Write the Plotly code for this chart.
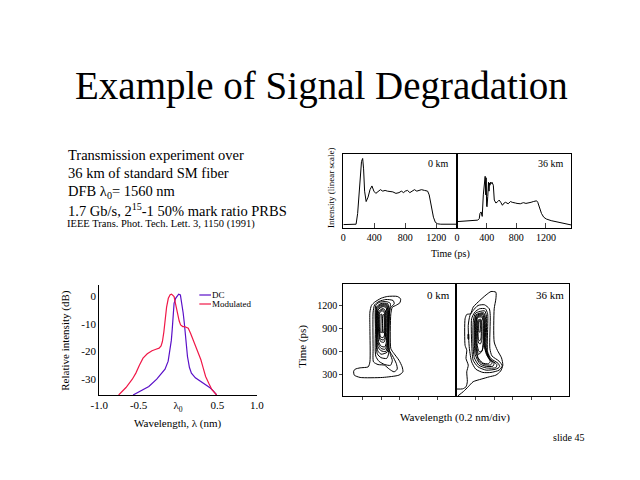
import plotly.graph_objects as go

FONT = "Liberation Serif"

# ---- top: pulse shapes (time in ps, intensity in arbitrary linear units) ----
time_0km = [0, 100, 165, 185, 210, 235, 250, 262, 275, 295, 320, 345, 370, 395, 420, 450, 480, 510,
            540, 570, 600, 640, 680, 720, 750, 780, 800, 830, 860, 890, 920, 950, 980, 1010, 1050,
            1090, 1110, 1140, 1165, 1190, 1220, 1260, 1470]
inten_0km = [0.05, 0.05, 0.055, 0.2, 0.6, 0.9, 0.94, 0.8, 0.5, 0.36, 0.42, 0.52, 0.57, 0.5, 0.47, 0.5,
             0.52, 0.5, 0.51, 0.5, 0.5, 0.49, 0.47, 0.48, 0.5, 0.48, 0.5, 0.51, 0.48, 0.5, 0.52, 0.5,
             0.51, 0.52, 0.51, 0.5, 0.45, 0.3, 0.15, 0.08, 0.06, 0.055, 0.055]

time_36km = [0, 100, 200, 280, 300, 310, 325, 340, 355, 370, 380, 388, 393, 400, 405, 415, 425, 432,
             438, 445, 452, 460, 472, 490, 503, 525, 550, 569, 590, 613, 635, 656, 690, 722, 745, 767,
             790, 810, 854, 880, 898, 930, 964, 1000, 1030, 1055, 1074, 1090, 1104, 1140, 1170, 1205,
             1271, 1403, 1545]
inten_36km = [0.09, 0.095, 0.1, 0.11, 0.13, 0.2, 0.22, 0.16, 0.45, 0.66, 0.7, 0.45, 0.68, 0.3, 0.29,
              0.43, 0.62, 0.5, 0.61, 0.58, 0.62, 0.6, 0.62, 0.58, 0.38, 0.34, 0.36, 0.38, 0.35, 0.31,
              0.34, 0.35, 0.33, 0.36, 0.35, 0.34, 0.34, 0.335, 0.33, 0.34, 0.345, 0.335, 0.34, 0.35,
              0.36, 0.37, 0.37, 0.35, 0.31, 0.2, 0.15, 0.125, 0.103, 0.075, 0.044]
time_ticks = [0, 400, 800, 1200]

# ---- bottom left: optical spectra (wavelength offset in nm, dB) ----
dc_wl = [-0.57, -0.45, -0.37, -0.27, -0.165, -0.125, -0.103, -0.085, -0.074, -0.06, -0.05, -0.03,
         -0.01, 0.008, 0.03, 0.05, 0.065, 0.08, 0.1, 0.12, 0.145, 0.17, 0.22, 0.29, 0.35, 0.41, 0.45, 0.49]
dc_db = [-35.7, -34, -32.6, -30, -26.4, -23.5, -20, -16, -12.2, -7, -2.6, -0.8, 0.2, 0.7, 0.4, -2.5,
         -6, -9.8, -15.5, -21.8, -25.8, -27.8, -29.5, -30.8, -32, -33.2, -34.3, -35.7]
mod_wl = [-0.753, -0.66, -0.58, -0.535, -0.49, -0.444, -0.39, -0.33, -0.28, -0.24, -0.215, -0.198,
          -0.18, -0.165, -0.145, -0.123, -0.1, -0.082, -0.065, -0.05, -0.03, -0.008, 0.015, 0.033,
          0.06, 0.082, 0.105, 0.13, 0.16, 0.2, 0.25, 0.29, 0.32, 0.35, 0.39, 0.43, 0.49]
mod_db = [-35.7, -33, -30, -27.8, -25, -22.4, -20.8, -19.7, -19.2, -18.8, -18, -16.4, -13, -8.6, -4,
          -0.8, 0.5, 0.7, 0.3, -0.2, -3, -6.2, -9, -10.4, -11, -11, -11.3, -11.6, -13.5, -16.4, -19.5,
          -23, -26, -29, -31.5, -33.8, -35.7]
wl_ticks = [-1.0, -0.5, 0, 0.5, 1.0]
wl_ticktext = ["-1.0", "-0.5", "λ<sub>0</sub>", "0.5", "1.0"]
db_ticks = [0, -10, -20, -30]
db_ticktext = ["0", "-10", "-20", "-30"]

# ---- bottom right: spectrogram contour lines (wavelength div, time ps) ----
contours_0km = [
    [(0.55, 344), (0.63, 370), (0.89, 387), (1.32, 400), (1.41, 465), (1.41, 900), (1.41, 1114),
     (1.49, 1200), (1.66, 1243), (2.01, 1295), (2.35, 1318), (2.86, 1318), (3.04, 1286), (3.0, 1235),
     (2.78, 1200), (2.6, 1178), (2.52, 1092), (2.52, 638), (2.69, 573), (2.95, 487), (3.12, 400),
     (3.16, 335), (2.95, 292), (2.09, 262), (0.89, 262), (0.58, 292)],
    [(1.58, 1114), (1.66, 1209), (1.89, 1252), (2.26, 1278), (2.64, 1265), (2.7, 1222), (2.52, 1178),
     (2.44, 1092), (2.44, 616), (2.61, 543), (2.81, 443), (2.86, 370), (2.69, 335), (2.44, 370),
     (2.18, 422), (1.84, 430), (1.6, 465), (1.58, 638), (1.57, 985)],
    [(1.72, 1200), (1.9, 1240), (2.3, 1250), (2.5, 1225), (2.45, 1150), (2.42, 650), (2.5, 560),
     (2.6, 480), (2.5, 420), (2.2, 430), (1.9, 470), (1.72, 540), (1.7, 900)],
    [(1.76, 1180), (2.0, 1225), (2.35, 1225), (2.42, 1160), (2.38, 660), (2.4, 570), (2.3, 510),
     (2.0, 520), (1.8, 570), (1.75, 900)],
    [(1.78, 1170), (2.02, 1215), (2.33, 1212), (2.39, 1145), (2.36, 670), (2.32, 590), (2.0, 565),
     (1.82, 615)],
    [(1.8, 1160), (2.05, 1205), (2.3, 1200), (2.36, 1130), (2.34, 680), (2.25, 600), (2.0, 610),
     (1.84, 660)],
    [(1.83, 1140), (2.1, 1185), (2.27, 1170), (2.3, 1100), (2.28, 720), (2.2, 660), (2.0, 670),
     (1.87, 730)],
    [(1.85, 1150), (2.08, 1195), (2.29, 1185), (2.33, 1115), (2.31, 700), (2.22, 630), (2.0, 640),
     (1.86, 700)],
    [(1.87, 1120), (2.1, 1160), (2.22, 1140), (2.25, 1070), (2.22, 760), (2.15, 720), (1.98, 730),
     (1.9, 790)],
    [(1.9, 1110), (2.08, 1145), (2.2, 1125), (2.22, 1055), (2.2, 780), (2.12, 750), (1.98, 760),
     (1.91, 815)],
    [(1.92, 1100), (2.05, 1130), (2.17, 1110), (2.2, 1040), (2.17, 800), (2.1, 780), (1.98, 790),
     (1.93, 840)],
    [(1.95, 1070), (2.02, 1090), (2.05, 1000), (2.04, 850), (1.97, 850), (1.95, 950)],
    [(2.1, 1080), (2.15, 1080), (2.15, 860), (2.1, 840), (2.08, 900)],
]
outer_36km = [(0, 111), (0.33, 113), (0.51, 140), (0.58, 206), (0.55, 335), (0.63, 422), (0.51, 508),
              (0.55, 616), (0.46, 681), (0.46, 1027), (0.55, 1083), (0.75, 1092), (0.89, 1178),
              (1.24, 1265), (1.58, 1338), (1.84, 1382), (2.1, 1373), (2.1, 1286), (2.01, 1157),
              (2.01, 724), (2.18, 616), (2.4, 517), (2.47, 422), (2.35, 344), (2.1, 292), (1.75, 270),
              (1.32, 240), (0.89, 206), (0.63, 141), (0.38, 80), (0.07, 20)]
contours_36km = [
    [(0.89, 1135), (1.15, 1200), (1.49, 1209), (1.75, 1157), (1.8, 1070), (1.78, 638), (1.89, 543),
     (2.27, 474), (2.44, 413), (2.27, 357), (1.84, 327), (1.41, 327), (1.03, 370), (0.81, 465),
     (0.69, 638), (0.63, 941), (0.72, 1070)],
    [(0.98, 1114), (1.23, 1157), (1.54, 1157), (1.66, 1092), (1.66, 595), (1.84, 508), (2.23, 443),
     (2.3, 400), (2.1, 370), (1.58, 357), (1.15, 400), (0.89, 487), (0.81, 724), (0.81, 1027)],
    [(1.02, 1100), (1.5, 1130), (1.6, 1060), (1.6, 620), (1.8, 500), (2.15, 430), (2.1, 390),
     (1.6, 385), (1.2, 420), (0.95, 520), (0.88, 750), (0.9, 1000)],
    [(1.05, 1080), (1.45, 1105), (1.55, 1040), (1.55, 640), (1.75, 510), (2.0, 445), (1.95, 410),
     (1.6, 405), (1.25, 440), (1.0, 560), (0.95, 800), (0.97, 1000)],
    [(1.07, 1070), (1.43, 1092), (1.51, 1025), (1.51, 660), (1.68, 530), (1.9, 455), (1.82, 425),
     (1.5, 428), (1.2, 480), (1.01, 630), (0.99, 990)],
    [(1.1, 1060), (1.4, 1080), (1.48, 1010), (1.48, 680), (1.6, 560), (1.8, 470), (1.7, 440),
     (1.4, 450), (1.15, 520), (1.03, 700), (1.03, 980)],
    [(1.11, 1050), (1.37, 1065), (1.45, 1000), (1.45, 700), (1.38, 620), (1.18, 560), (1.06, 700),
     (1.05, 970)],
    [(1.12, 1040), (1.35, 1050), (1.42, 990), (1.42, 720), (1.35, 600), (1.2, 600), (1.1, 700),
     (1.08, 960)],
    [(1.15, 1010), (1.3, 1020), (1.35, 960), (1.35, 760), (1.28, 700), (1.18, 710), (1.13, 800),
     (1.13, 950)],
    [(1.17, 1000), (1.28, 1008), (1.32, 940), (1.31, 780), (1.25, 740), (1.17, 760), (1.15, 940)],
    [(1.2, 990), (1.26, 995), (1.28, 900), (1.25, 850), (1.2, 860), (1.19, 950)],
    [(0.62, 760), (0.65, 760), (0.65, 830), (0.62, 830)],
]
div_ticks = [1, 2, 3, 4, 5]
contour_time_ticks = [300, 600, 900, 1200]

# the page puts the plot 8px in from the top-left corner, so positions are shifted back by that
OFFSET = 8


def px(x):
    return (x - OFFSET) / 640


def py(y):
    return 1 - (y - OFFSET) / 480


fig = go.Figure()

line = dict(color="black", width=1)
fig.add_trace(go.Scatter(x=time_0km, y=inten_0km, mode="lines", line=line, xaxis="x", yaxis="y"))
fig.add_trace(go.Scatter(x=time_36km, y=inten_36km, mode="lines", line=line, xaxis="x2", yaxis="y2"))

fig.add_trace(go.Scatter(x=dc_wl, y=dc_db, mode="lines", line=dict(color="#5a10c8", width=1.2),
                         xaxis="x3", yaxis="y3"))
fig.add_trace(go.Scatter(x=mod_wl, y=mod_db, mode="lines", line=dict(color="#f01848", width=1.2),
                         xaxis="x3", yaxis="y3"))

contour_line = dict(color="black", width=1, shape="spline", smoothing=0.6)
for pts in contours_0km:
    pts = pts + [pts[0]]
    fig.add_trace(go.Scatter(x=[p[0] for p in pts], y=[p[1] for p in pts], mode="lines",
                             line=contour_line, xaxis="x4", yaxis="y4"))
fig.add_trace(go.Scatter(x=[p[0] for p in outer_36km], y=[p[1] for p in outer_36km], mode="lines",
                         line=contour_line, xaxis="x5", yaxis="y5"))
for pts in contours_36km:
    pts = pts + [pts[0]]
    fig.add_trace(go.Scatter(x=[p[0] for p in pts], y=[p[1] for p in pts], mode="lines",
                             line=contour_line, xaxis="x5", yaxis="y5"))

tickfont = dict(family=FONT, size=10, color="black")
box = dict(showline=True, mirror=True, linecolor="black", linewidth=1, showgrid=False, zeroline=False)

top_y = [py(228.3), py(154)]
bot_y = [py(396), py(284)]
fig.update_layout(
    width=640, height=480, margin=dict(l=0, r=0, t=0, b=0),
    paper_bgcolor="white", plot_bgcolor="white", showlegend=False,
    font=dict(family=FONT, color="black"),
    xaxis=dict(domain=[px(342.7), px(459.3)], range=[0, 1470], anchor="y", ticks="inside", ticklen=5,
               tickvals=time_ticks, tickfont=tickfont, **box),
    yaxis=dict(domain=top_y, range=[0, 1], anchor="x", showticklabels=False, ticks="", **box),
    xaxis2=dict(domain=[px(459.3), px(576.7)], range=[0, 1545], anchor="y2", ticks="inside", ticklen=5,
                tickvals=time_ticks, tickfont=tickfont, **box),
    yaxis2=dict(domain=top_y, range=[0, 1], anchor="x2", showticklabels=False, ticks="", **box),
    xaxis3=dict(domain=[px(92.3), px(254)], range=[-1, 1], anchor="y3", showline=True, linecolor="black",
                linewidth=1, showgrid=False, zeroline=False, ticks="", tickvals=wl_ticks,
                ticktext=wl_ticktext, tickfont=dict(family=FONT, size=11, color="black")),
    yaxis3=dict(domain=[py(395), py(285)], range=[-35.7, 4], anchor="x3", showline=True,
                linecolor="black", linewidth=1, showgrid=False, zeroline=False, ticks="",
                tickvals=db_ticks, ticktext=db_ticktext, tickfont=dict(family=FONT, size=11, color="black")),
    xaxis4=dict(domain=[px(342.7), px(458.7)], range=[0, 6], anchor="y4", ticks="outside", ticklen=3,
                tickvals=div_ticks, showticklabels=False, **box),
    yaxis4=dict(domain=bot_y, range=[20, 1480], anchor="x4", ticks="outside", ticklen=3,
                tickvals=contour_time_ticks, tickfont=tickfont, **box),
    xaxis5=dict(domain=[px(458.7), px(574.3)], range=[0, 6], anchor="y5", ticks="outside", ticklen=3,
                tickvals=div_ticks, showticklabels=False, **box),
    yaxis5=dict(domain=bot_y, range=[20, 1480], anchor="x5", ticks="", showticklabels=False, **box),
)


def note(text, x, y, size, xanchor="center", angle=0):
    fig.add_annotation(text=text, x=px(x), y=py(y), xref="paper", yref="paper", showarrow=False,
                       xanchor=xanchor, yanchor="middle", textangle=angle, align=xanchor,
                       font=dict(family=FONT, size=size, color="black"))


note("Example of Signal Degradation", 320, 86, 39)

# left-anchored notes come out a little right of their anchor, so they start a bit earlier
note("Transmission experiment over", 58, 155, 14.5, "left")
note("36 km of standard SM fiber", 58, 173, 14.5, "left")
note("DFB λ<sub>0</sub>= 1560 nm", 58, 191.5, 14.5, "left")
note("1.7 Gb/s, 2<sup>15</sup>-1 50% mark ratio PRBS", 58, 209.5, 14.5, "left")
note("IEEE Trans. Phot. Tech. Lett. 3, 1150 (1991)", 57, 224, 10.5, "left")

note("0 km", 440, 164, 10)
note("36 km", 556, 164, 10)
note("Intensity (linear scale)", 330, 188, 9, angle=-90)
note("Time (ps)", 453, 254, 10)

note("Relative intensity (dB)", 57, 340, 11, angle=-90)
note("Wavelength, λ (nm)", 173, 423, 11)
note("DC", 206, 295, 9, "left")
note("Modulated", 206, 304, 9, "left")
fig.add_shape(type="line", xref="paper", yref="paper", x0=px(195), x1=px(207), y0=py(295), y1=py(295),
              line=dict(color="#5a10c8", width=1.2))
fig.add_shape(type="line", xref="paper", yref="paper", x0=px(195), x1=px(207), y0=py(304), y1=py(304),
              line=dict(color="#f01848", width=1.2))

note("0 km", 440, 295, 11)
note("36 km", 555, 295, 11)
note("Time (ps)", 300, 346, 11, angle=-90)
note("Wavelength (0.2 nm/div)", 457, 417, 11)

note("slide 45", 574, 437, 10)

fig.write_html("out.html")
